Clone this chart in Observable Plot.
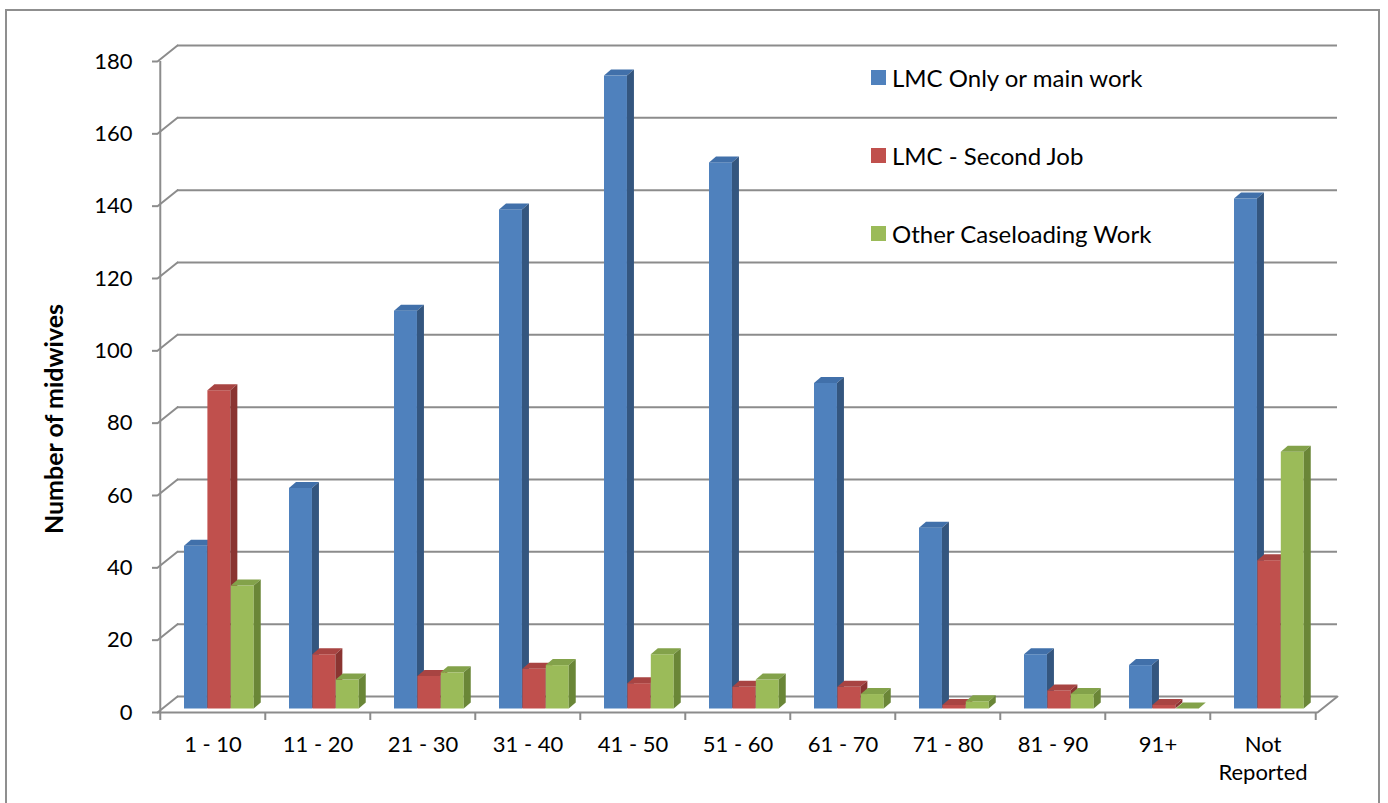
<!DOCTYPE html>
<html>
<head>
<meta charset="utf-8">
<script src="https://cdn.jsdelivr.net/npm/d3@7"></script>
<script src="https://cdn.jsdelivr.net/npm/@observablehq/plot@0.6"></script>
<style>
  html, body { margin: 0; padding: 0; background: #fff; }
  #wrap { position: relative; width: 1388px; height: 803px; overflow: hidden; font-family: Lato, "Open Sans", sans-serif; }
  #border { position: absolute; left: 5px; top: 9px; width: 1375px; height: 820px; border: 2px solid #8f8f8f; box-sizing: border-box; }
  #legend { position: absolute; left: 871px; top: 62px; }
  .lg-row { display: flex; align-items: center; height: 30px; margin-bottom: 48px; font-size: 24px; color: #000; white-space: nowrap; }
  .lg-sw { width: 15px; height: 15px; margin-right: 6px; flex: none; }
  #chart { position: absolute; left: 0; top: 0; }
</style>
</head>
<body>
<div id="wrap">
  <div id="border"></div>
  <div id="chart"></div>
  <div id="legend"></div>
</div>
<script>
// ---- data ----
const categories = ["1 - 10", "11 - 20", "21 - 30", "31 - 40", "41 - 50", "51 - 60", "61 - 70", "71 - 80", "81 - 90", "91+", "Not Reported"];
const categoryLabels = ["1 - 10", "11 - 20", "21 - 30", "31 - 40", "41 - 50", "51 - 60", "61 - 70", "71 - 80", "81 - 90", "91+", "Not\nReported"];
const seriesNames = ["LMC Only or main work", "LMC - Second Job", "Other Caseloading Work"];
const lmcOnlyMain = [45, 61, 110, 138, 175, 151, 90, 50, 15, 12, 141];
const lmcSecondJob = [88, 15, 9, 11, 7, 6, 6, 1, 5, 1, 41];
const otherCaseloading = [34, 8, 10, 12, 15, 8, 4, 2, 4, 0, 71];
const yTicks = [0, 20, 40, 60, 80, 100, 120, 140, 160, 180];
const yTitle = "Number of midwives";

// ---- styles ----
const frontColors = ["#4F81BD", "#C0504D", "#9BBB59"];
const sideColors = ["#34567f", "#8a3431", "#6a8637"];
const topColors = ["#4170aa", "#a84442", "#83a24a"];
const gridColor = "#8c8c8c";

const W = 1388, H = 803;
const mL = 157, mR = 71, mT = 61, mB = 91;
const bw = (W - mL - mR) / categories.length;
const barW = 23.4, groupOff = 24;
const depthX = 20, depthY = -16;   // back-wall offset
const barDX = 7, barDY = -6;       // bar depth
const barLift = -3.5;

const seriesValues = [lmcOnlyMain, lmcSecondJob, otherCaseloading];
const tables = seriesValues.map((vals, s) => categories.map((c, i) => ({cat: c, value: vals[i], series: seriesNames[s]})));

const lineShape = { draw(context, l) { context.moveTo(0, 0); context.lineTo(0, -l); } };
const diagLen = Math.hypot(depthX, depthY);
const diagAngle = Math.atan2(depthX, -depthY) * 180 / Math.PI;

const labelOf = new Map(categories.map((c, i) => [c, categoryLabels[i]]));

const barMarks = tables.map((t, s) => Plot.barY(t, {
  x: "cat", y: "value", fill: frontColors[s],
  insetLeft: groupOff + barW * s,
  insetRight: bw - (groupOff + barW * (s + 1)),
  dy: barLift
}));

const plot = Plot.plot({
  width: W, height: H,
  marginLeft: mL, marginRight: mR, marginTop: mT, marginBottom: mB,
  style: { fontFamily: "Lato, 'Open Sans', sans-serif", fontSize: "22px", color: "#000", background: "transparent", overflow: "visible" },
  x: { domain: categories, padding: 0, axis: null },
  y: { domain: [0, 180], axis: null },
  marks: [
    // back wall grid lines
    Plot.ruleY(yTicks, { dx: depthX, dy: depthY, stroke: gridColor, strokeWidth: 2 }),
    // side wall diagonals
    Plot.vector(yTicks, { y: d => d, frameAnchor: "left", anchor: "start", length: diagLen, rotate: diagAngle, shape: lineShape, stroke: gridColor, strokeWidth: 2 }),
    Plot.vector([0], { y: d => d, frameAnchor: "right", anchor: "start", length: diagLen, rotate: diagAngle, shape: lineShape, stroke: gridColor, strokeWidth: 2 }),
    // front floor edge and vertical axis line
    Plot.ruleY([0], { stroke: gridColor, strokeWidth: 2 }),
    Plot.ruleX([categories[0]], { dx: -bw / 2, stroke: gridColor, strokeWidth: 2 }),
    ...barMarks,
    // y axis
    Plot.axisY({ ticks: yTicks, tickSize: 5, tickPadding: 20, stroke: gridColor, strokeWidth: 2, strokeOpacity: 1, fontSize: 22, label: null }),
    // x axis tick marks at category boundaries
    Plot.axisX({ tickSize: 8, tickFormat: () => "", dx: -bw / 2, stroke: gridColor, strokeWidth: 2, strokeOpacity: 1, label: null }),
    Plot.axisX({ ticks: [categories[categories.length - 1]], tickSize: 8, tickFormat: () => "", dx: bw / 2, stroke: gridColor, strokeWidth: 2, strokeOpacity: 1, label: null }),
    // x axis labels
    Plot.axisX({ tickSize: 0, tickPadding: 19, tickFormat: d => labelOf.get(d), fontSize: 22, lineHeight: 1.3, label: null }),
    // y title
    Plot.text([yTitle], { text: d => d, frameAnchor: "left", textAnchor: "middle", rotate: -90, dx: -103, dy: 32, fontWeight: "bold", fontSize: 25 })
  ]
});

document.getElementById("chart").appendChild(plot);

// add 3D depth faces to each bar, derived from rendered bar geometry
const barGroups = plot.querySelectorAll('g[aria-label="bar"]');
barGroups.forEach((g, s) => {
  const rects = Array.from(g.querySelectorAll("rect"));
  rects.forEach(r => {
    const x = +r.getAttribute("x"), y = +r.getAttribute("y");
    const w = +r.getAttribute("width"), h = +r.getAttribute("height");
    const sel = d3.select(r.parentNode);
    sel.insert("polygon", () => r.nextSibling)
      .attr("points", [[x + w, y], [x + w + barDX, y + barDY], [x + w + barDX, y + h + barDY], [x + w, y + h]].map(p => p.join(",")).join(" "))
      .attr("fill", sideColors[s]);
    sel.insert("polygon", () => r.nextSibling)
      .attr("points", [[x, y], [x + barDX, y + barDY], [x + w + barDX, y + barDY], [x + w, y]].map(p => p.join(",")).join(" "))
      .attr("fill", topColors[s]);
  });
});

// legend
const legend = d3.select("#legend");
seriesNames.forEach((name, s) => {
  const row = legend.append("div").attr("class", "lg-row");
  row.append("div").attr("class", "lg-sw").style("background", frontColors[s]);
  row.append("span").text(name);
});
</script>
</body>
</html>
